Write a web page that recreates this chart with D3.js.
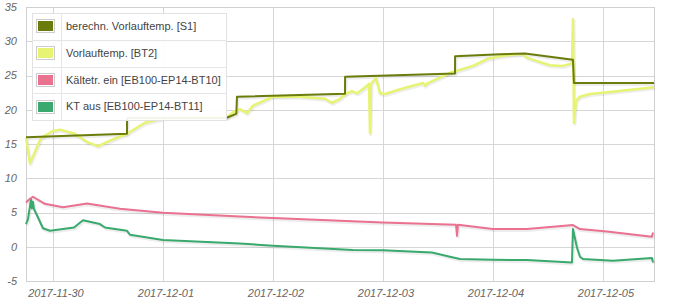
<!DOCTYPE html>
<html>
<head>
<meta charset="utf-8">
<script src="https://cdn.jsdelivr.net/npm/d3@7"></script>
<style>
  body { margin: 0; background: #fff; }
  svg text { font-family: "Liberation Sans", Arial, sans-serif; }
</style>
</head>
<body>
<div id="chart"></div>
<script>
// series names and colours
var names = ["berechn. Vorlauftemp. [S1]", "Vorlauftemp. [BT2]", "Kältetr. ein [EB100-EP14-BT10]", "KT aus [EB100-EP14-BT11]"];
var colors = ["#6c7c0c", "#e6f373", "#eb7190", "#3aa96d"];

var yTicks = [-5, 0, 5, 10, 15, 20, 25, 30, 35];
var xTicks = ["2017-11-30", "2017-12-01", "2017-12-02", "2017-12-03", "2017-12-04", "2017-12-05"];

// [time, value]
var s1 = [
  ["2017-11-29 18:07", 16.0], ["2017-11-30 16:09", 16.5], ["2017-11-30 16:10", 18.8],
  ["2017-12-01 13:45", 18.8], ["2017-12-01 16:00", 19.4], ["2017-12-01 16:09", 21.9],
  ["2017-12-02 15:43", 22.35], ["2017-12-02 15:44", 24.8], ["2017-12-03 15:43", 25.3],
  ["2017-12-03 15:44", 27.8], ["2017-12-04 01:32", 28.1], ["2017-12-04 06:59", 28.2],
  ["2017-12-04 17:27", 27.3], ["2017-12-04 17:40", 23.9], ["2017-12-05 11:08", 23.9]
];
var bt2 = [
  ["2017-11-29 18:07", 15.9], ["2017-11-29 18:59", 12.2], ["2017-11-29 21:23", 15.9],
  ["2017-11-30 00:00", 16.9], ["2017-11-30 01:32", 17.1], ["2017-11-30 04:48", 16.5],
  ["2017-11-30 07:25", 15.3], ["2017-11-30 09:49", 14.7], ["2017-11-30 12:26", 15.5],
  ["2017-11-30 16:09", 16.5], ["2017-11-30 20:04", 18.1], ["2017-12-01 00:26", 18.8],
  ["2017-12-01 13:58", 18.95], ["2017-12-01 15:43", 19.8], ["2017-12-01 16:48", 20.1],
  ["2017-12-01 18:20", 19.5], ["2017-12-01 19:38", 20.6], ["2017-12-02 00:00", 21.9],
  ["2017-12-02 05:53", 21.9], ["2017-12-02 11:21", 21.6], ["2017-12-02 12:52", 21.0],
  ["2017-12-02 14:37", 21.6], ["2017-12-02 15:43", 22.3], ["2017-12-02 17:14", 22.7],
  ["2017-12-02 18:20", 22.4], ["2017-12-02 18:59", 22.7], ["2017-12-02 20:31", 23.5],
  ["2017-12-02 20:57", 23.8], ["2017-12-02 21:10", 16.6], ["2017-12-02 21:23", 23.8],
  ["2017-12-02 22:28", 24.6], ["2017-12-02 23:21", 22.4], ["2017-12-03 00:26", 22.3],
  ["2017-12-03 03:43", 23.0], ["2017-12-03 08:44", 23.9], ["2017-12-03 09:10", 23.5],
  ["2017-12-03 09:36", 23.8], ["2017-12-03 14:37", 25.4], ["2017-12-03 16:09", 25.7],
  ["2017-12-03 19:38", 26.4], ["2017-12-03 22:41", 27.4], ["2017-12-04 01:32", 27.8],
  ["2017-12-04 05:14", 28.1], ["2017-12-04 06:33", 28.1], ["2017-12-04 07:25", 27.6],
  ["2017-12-04 09:36", 27.1], ["2017-12-04 12:26", 26.5], ["2017-12-04 15:16", 26.4],
  ["2017-12-04 16:48", 26.7], ["2017-12-04 17:14", 26.8], ["2017-12-04 17:27", 33.2],
  ["2017-12-04 17:40", 18.1], ["2017-12-04 18:07", 21.3], ["2017-12-04 18:59", 21.9],
  ["2017-12-04 21:10", 22.3], ["2017-12-05 01:32", 22.6], ["2017-12-05 11:08", 23.3]
];
var bt10 = [
  ["2017-11-29 18:07", 6.46], ["2017-11-29 18:59", 7.0], ["2017-11-29 19:38", 7.3],
  ["2017-11-29 22:15", 6.27], ["2017-11-30 02:11", 5.76], ["2017-11-30 07:25", 6.31],
  ["2017-11-30 14:37", 5.54], ["2017-12-01 00:00", 4.96], ["2017-12-01 16:48", 4.42],
  ["2017-12-02 00:00", 4.18], ["2017-12-03 00:00", 3.54], ["2017-12-03 15:56", 3.21],
  ["2017-12-03 16:09", 1.6], ["2017-12-03 16:22", 3.21], ["2017-12-04 00:00", 2.58],
  ["2017-12-04 07:25", 2.58], ["2017-12-04 17:27", 3.16], ["2017-12-04 18:59", 2.58],
  ["2017-12-05 00:52", 2.23], ["2017-12-05 10:41", 1.46], ["2017-12-05 10:55", 2.08]
];
var bt11 = [
  ["2017-11-29 18:07", 3.31], ["2017-11-29 18:33", 4.04], ["2017-11-29 19:12", 6.92],
  ["2017-11-29 19:25", 5.6], ["2017-11-29 19:38", 6.56], ["2017-11-29 19:51", 5.54],
  ["2017-11-29 20:44", 4.27], ["2017-11-29 21:49", 2.7], ["2017-11-29 23:21", 2.33],
  ["2017-11-30 04:35", 2.81], ["2017-11-30 06:33", 3.86], ["2017-11-30 10:15", 3.31],
  ["2017-11-30 11:21", 2.81], ["2017-11-30 16:09", 2.33], ["2017-11-30 16:48", 1.75],
  ["2017-12-01 00:00", 0.99], ["2017-12-01 16:48", 0.48], ["2017-12-02 00:00", 0.15],
  ["2017-12-02 17:27", -0.48], ["2017-12-03 00:00", -0.51], ["2017-12-03 10:41", -0.83],
  ["2017-12-03 14:37", -1.46], ["2017-12-03 16:48", -1.79], ["2017-12-04 00:00", -1.9],
  ["2017-12-04 07:25", -1.94], ["2017-12-04 17:14", -2.29], ["2017-12-04 17:27", 2.58],
  ["2017-12-04 18:20", -0.15], ["2017-12-04 18:59", -1.46], ["2017-12-04 19:38", -1.79],
  ["2017-12-05 02:11", -2.04], ["2017-12-05 10:41", -1.65], ["2017-12-05 10:55", -2.29]
];

var series = [s1, bt2, bt10, bt11];

var width = 680, height = 300;
var plotL = 26, plotR = 654, plotT = 7, plotB = 281;
var parse = d3.timeParse("%Y-%m-%d %H:%M");
var parseDay = d3.timeParse("%Y-%m-%d");

var svg = d3.select("#chart").append("svg")
  .attr("width", width)
  .attr("height", height);

var x = d3.scaleTime()
  .domain([parse("2017-11-29 18:07"), parse("2017-12-05 11:08")])
  .range([plotL, plotR]);

var y = d3.scaleLinear()
  .domain([-5, 35])
  .range([plotB, plotT]);

// grid
svg.append("g").selectAll("line")
  .data(yTicks)
  .enter().append("line")
  .attr("x1", plotL).attr("x2", plotR)
  .attr("y1", function(d){ return Math.round(y(d)) + 0.5; })
  .attr("y2", function(d){ return Math.round(y(d)) + 0.5; })
  .attr("stroke", "#d6d6d6");

svg.append("g").selectAll("line")
  .data(xTicks)
  .enter().append("line")
  .attr("x1", function(d){ return Math.round(x(parseDay(d))) + 0.5; })
  .attr("x2", function(d){ return Math.round(x(parseDay(d))) + 0.5; })
  .attr("y1", plotT).attr("y2", plotB)
  .attr("stroke", "#d6d6d6");

svg.append("rect")
  .attr("x", plotL + 0.5).attr("y", plotT + 0.5)
  .attr("width", plotR - plotL).attr("height", plotB - plotT)
  .attr("fill", "none")
  .attr("stroke", "#d0d0d0");

// tick labels
svg.append("g").selectAll("text")
  .data(yTicks)
  .enter().append("text")
  .attr("x", 17)
  .attr("y", function(d){ return y(d); })
  .attr("dy", "0.35em")
  .attr("text-anchor", "end")
  .attr("font-size", 11)
  .attr("font-style", "italic")
  .attr("fill", "#666")
  .text(function(d){ return d; });

svg.append("g").selectAll("text")
  .data(xTicks)
  .enter().append("text")
  .attr("x", function(d){ return x(parseDay(d)) + 3; })
  .attr("y", 293)
  .attr("dy", "0.35em")
  .attr("text-anchor", "middle")
  .attr("font-size", 11)
  .attr("font-style", "italic")
  .attr("fill", "#666")
  .text(function(d){ return d; });

var line = d3.line()
  .x(function(d){ return x(parse(d[0])); })
  .y(function(d){ return y(d[1]); });

var plot = svg.append("g");

// shadows first
series.forEach(function(s){
  plot.append("path")
    .datum(s)
    .attr("d", line)
    .attr("fill", "none")
    .attr("stroke", "rgba(0,0,0,0.07)")
    .attr("stroke-width", 3)
    .attr("stroke-linejoin", "round")
    .attr("transform", "translate(1,1.5)");
});

// draw back to front like the original (S1 on top of BT2)
[3, 2, 1, 0].forEach(function(i){
  plot.append("path")
    .datum(series[i])
    .attr("d", line)
    .attr("fill", "none")
    .attr("stroke", colors[i])
    .attr("stroke-width", i == 1 ? 2.5 : 2)
    .attr("stroke-linejoin", "round");
});

// legend
var lg = svg.append("g");
var lx = 32, ly = 13, lw = 194, rowH = 26.75;

lg.append("rect")
  .attr("x", lx + 0.5).attr("y", ly + 0.5)
  .attr("width", lw).attr("height", rowH * 4)
  .attr("fill", "rgba(255,255,255,0.92)")
  .attr("stroke", "#e2e2e2");

for (var r = 1; r < 4; r++) {
  lg.append("line")
    .attr("x1", lx).attr("x2", lx + lw)
    .attr("y1", Math.round(ly + r * rowH) + 0.5)
    .attr("y2", Math.round(ly + r * rowH) + 0.5)
    .attr("stroke", "#e6e6e6");
}
lg.append("line")
  .attr("x1", 61.5).attr("x2", 61.5)
  .attr("y1", ly).attr("y2", ly + rowH * 4)
  .attr("stroke", "#e6e6e6");

names.forEach(function(n, i){
  var cy = ly + i * rowH + rowH / 2;
  lg.append("rect")
    .attr("x", 36.5).attr("y", Math.round(cy - 7) + 0.5)
    .attr("width", 18).attr("height", 13)
    .attr("fill", "#fff")
    .attr("stroke", "#ccc");
  lg.append("rect")
    .attr("x", 38).attr("y", Math.round(cy - 7) + 2)
    .attr("width", 15).attr("height", 10)
    .attr("fill", colors[i]);
  lg.append("text")
    .attr("x", 66)
    .attr("y", cy)
    .attr("dy", "0.35em")
    .attr("font-size", 11)
    .attr("fill", "#444")
    .text(n);
});
</script>
</body>
</html>
